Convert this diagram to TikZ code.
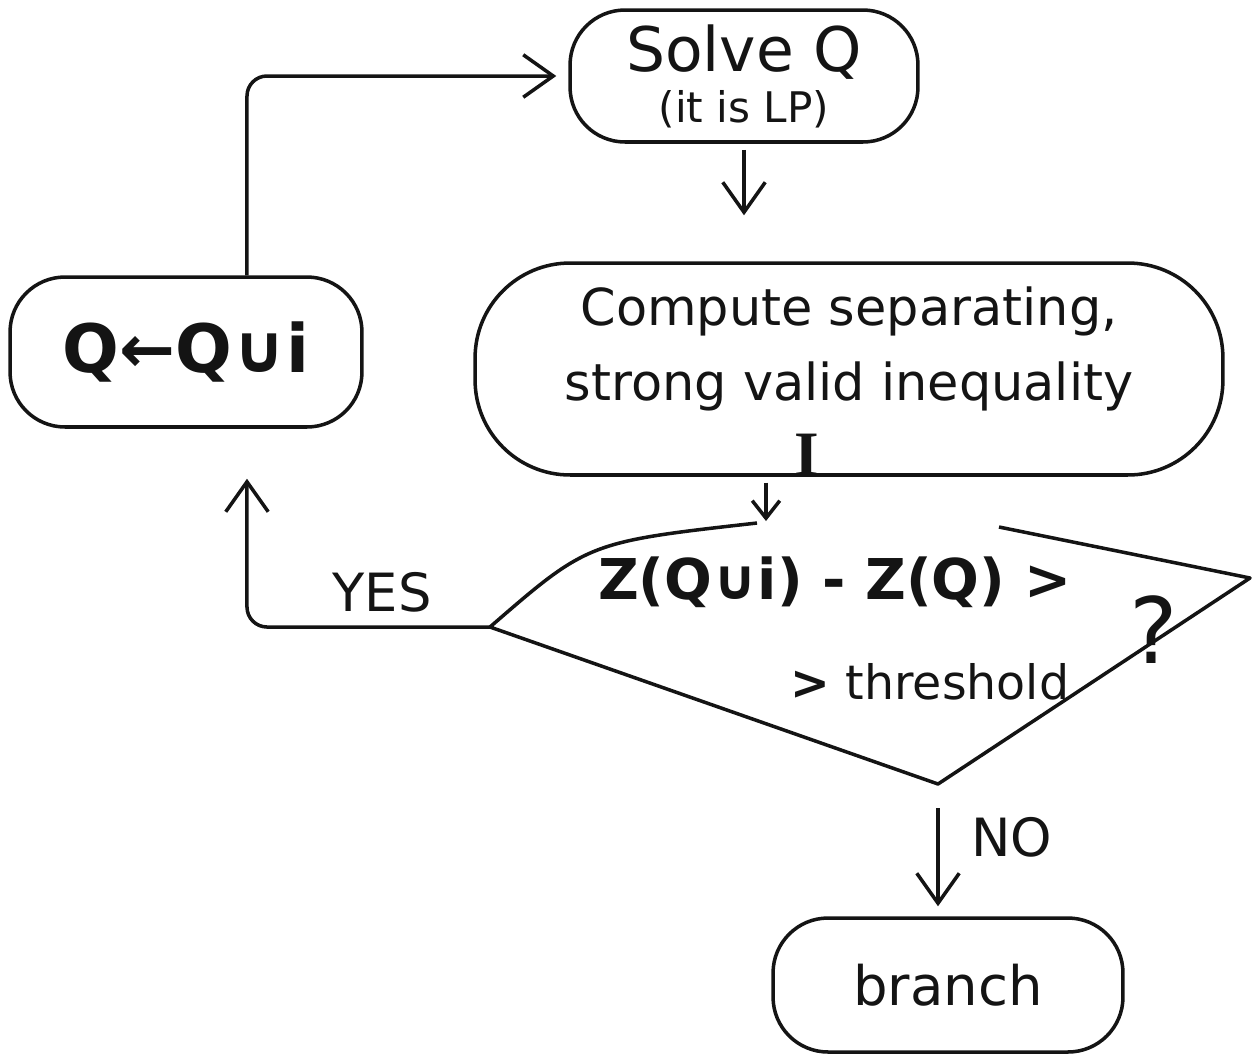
\documentclass[tikz,border=0pt]{standalone}
\usepackage{fontspec}
\setmainfont{DejaVu Sans}
\newfontfamily\inkserif{Liberation Serif}
\usetikzlibrary{arrows.meta,positioning,calc}
\definecolor{CutInk}{RGB}{20,20,20}
\definecolor{CutPaper}{RGB}{255,255,255}
\tikzset{
  cut/box/.style={
    draw=CutInk,
    line width=2pt,
    rounded corners=1.1cm,
    fill=CutPaper,
    align=center,
    text=CutInk,
    inner sep=0pt
  },
  cut/arrow/.style={-{Straight Barb[length=6mm,width=8.5mm]}, line width=2pt, draw=CutInk, rounded corners=0.4cm},
  cut/smallarrow/.style={cut/arrow, -{Straight Barb[length=3.5mm,width=5.5mm]}},
  cut/edge/.style={draw=CutInk, line width=2pt, line join=round},
  cut/text/.style={text=CutInk, inner sep=0pt, align=center}
}
\begin{document}
\begin{tikzpicture}[x=0.02cm,y=-0.02cm]
  \useasboundingbox (0,0) rectangle (1257,1056);
  % boxes
  \node[cut/box,minimum width=6.96cm,minimum height=2.64cm,font=\fontsize{35}{30}\selectfont] (solve) at (744,76)
    {Solve Q\\[-1pt]{\fontsize{24}{24}\selectfont (it is LP)}};
  \node[cut/box,minimum width=14.96cm,minimum height=4.24cm,rounded corners=1.9cm,font=\fontsize{29}{43}\selectfont] (compute) at (849,369)
    {Compute separating,\\strong valid inequality\\[-14pt]};
  \node[cut/text,font=\inkserif\bfseries\fontsize{36}{36}\selectfont] (ineq) at (807,455) {I};
  \node[cut/box,minimum width=7.04cm,minimum height=3cm,font=\bfseries\fontsize{38}{40}\selectfont] (qbox) at (186,352)
    {Q←Q∪i};
  \node[cut/box,minimum width=7cm,minimum height=2.68cm,font=\fontsize{31}{36}\selectfont] (branch) at (948,985)
    {branch};
  % decision
  \coordinate (dl) at (490,627);
  \coordinate (dr) at (1250,578);
  \coordinate (db) at (938,784);
  \coordinate (gl) at (757,523);
  \coordinate (gr) at (999,527);
  \coordinate (din) at (766,521);
  \draw[cut/edge] (gl) .. controls (588,542) .. (dl) -- (db) -- (dr) -- (gr);
  \node[cut/text,font=\bfseries\fontsize{32}{32}\selectfont] (gain) at (835,582) {Z(Q∪i) - Z(Q) >};
  \node[cut/text,font=\fontsize{27}{27}\selectfont] (thr) at (930,682) {{\bfseries >} threshold};
  \node[cut/text,font=\fontsize{52}{52}\selectfont] (ask) at (1154,630) {?};
  % connectors
  \draw[cut/arrow,shorten <=0.12cm,shorten >=0.92cm] (solve.south) -- (solve.south |- compute.north);
  \draw[cut/smallarrow,shorten <=0.12cm] (compute.south -| din) -- (din);
  \draw[cut/arrow,shorten >=1cm] (dl) -| ([xshift=1.22cm]qbox.south);
  \draw[cut/arrow,shorten >=0.24cm] ([xshift=1.22cm]qbox.north) |- (solve.west);
  \draw[cut/arrow,shorten <=0.48cm,shorten >=0.2cm] (db) -- (db |- branch.north);
  % labels
  \node[cut/text,font=\fontsize{30}{30}\selectfont] (yes) at (382,592) {YES};
  \node[cut/text,font=\fontsize{30}{30}\selectfont] (no) at (1012,837) {NO};
\end{tikzpicture}
\end{document}
